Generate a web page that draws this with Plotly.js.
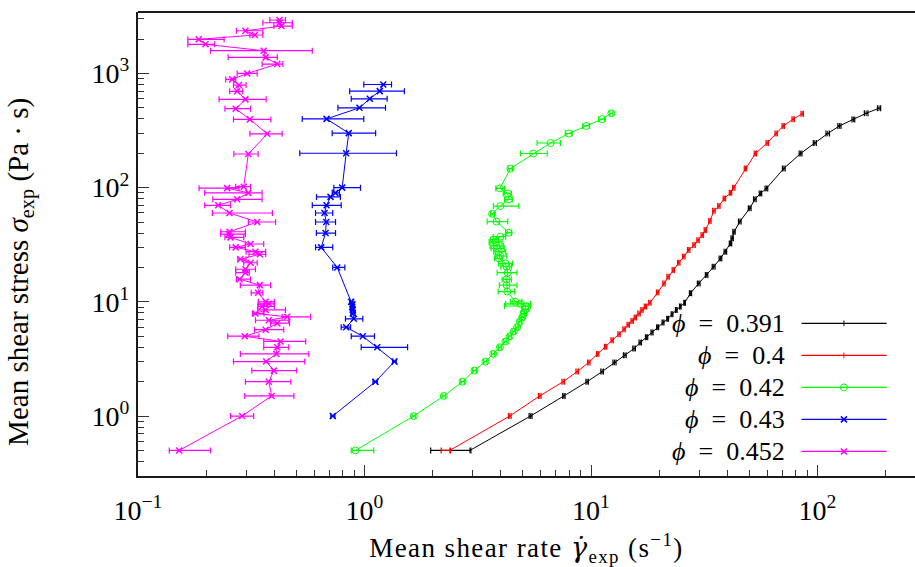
<!DOCTYPE html>
<html><head><meta charset="utf-8">
<script src="https://cdn.plot.ly/plotly-3.0.1.min.js"></script>
<style>
html,body{margin:0;padding:0;background:#fff}
#chart{width:915px;height:567px}
text.xtitle{letter-spacing:1.4px}
</style>
</head><body><div id="chart"></div>
<script>
// ---- data ----
const legendLabels = ['<i>ϕ</i>\u2002=\u20020.391', '<i>ϕ</i>\u2002=\u20020.4', '<i>ϕ</i>\u2002=\u20020.42', '<i>ϕ</i>\u2002=\u20020.43', '<i>ϕ</i>\u2002=\u20020.452'];
const seriesColors = ['#000000', '#ff0000', '#00ff00', '#0000ff', '#ff00ff'];

const xTickVals = [0.1, 1, 10, 100];
const xTickText = ['10<sup>−1</sup>', '10<sup>0</sup>', '10<sup>1</sup>', '10<sup>2</sup>'];
const yTickVals = [1, 10, 100, 1000];
const yTickText = ['10<sup>0</sup>', '10<sup>1</sup>', '10<sup>2</sup>', '10<sup>3</sup>'];
const xTitle = 'Mean shear rate <span style="font-family:\'DejaVu Serif\'"><i>γ̇</i></span><sub>exp</sub> (s<sup>−1</sup>)';
const yTitle = 'Mean shear stress <i>σ</i><sub>exp</sub> (Pa · s)';

// phi = 0.391 (black)
const phi391_stress = [0.5,1.0,1.5,2.0,2.45,2.95,3.4,3.9,4.4,4.9,5.4,6.0,6.6,7.1,7.8,8.5,9.1,9.8,11.9,14.5,17.2,20.3,24,27.5,32.5,36,41,50.4,65.9,79,89,98.5,147,199,246,298,347,396,448,496];
const phi391_rate   = [2.92,5.41,7.59,9.62,11.2,12.7,14.1,15.5,16.5,17.6,18.6,19.7,20.8,21.8,22.8,23.8,24.8,25.9,27.5,29.9,32.4,34.8,37.3,39.2,41.3,42.0,42.8,45.4,50.2,52.9,56.0,59.5,71.0,84.2,97.3,111,125,144,164,187];
const phi391_errLo  = [1.96,5.33,7.50,9.50,11.05,12.5,13.9,15.3,16.3,17.4,18.4,19.5,20.6,21.6,22.6,23.6,24.6,25.7,27.2,29.5,32.0,34.3,36.8,38.7,40.8,41.5,42.3,44.8,49.5,52.2,55.3,58.7,70.0,83.0,95.8,109,123,142,161,184];
const phi391_errHi  = [2.95,5.49,7.68,9.74,11.35,12.9,14.3,15.7,16.7,17.8,18.8,19.9,21.0,22.0,23.0,24.0,25.0,26.1,27.8,30.3,32.8,35.3,37.8,39.7,41.8,42.5,43.3,46.0,50.9,53.6,56.7,60.3,72.0,85.4,98.8,113,127,146,167,190];

// phi = 0.4 (red)
const phi400_stress = [0.5,1.0,1.5,2.0,2.45,2.95,3.5,4.05,4.6,5.2,5.75,6.3,6.8,7.3,7.9,8.5,9.1,9.8,12.1,14.5,16.6,19,22,24.9,28.5,31.4,34.7,38.4,42.5,51,62.8,69,80.4,90,100,147,199,246,298,347,398,443];
const phi400_rate   = [2.38,4.38,5.94,7.54,8.69,9.78,10.7,11.6,12.4,13.3,14.0,14.6,15.2,15.7,16.3,16.8,17.4,18.2,19.7,21.0,21.9,23.1,24.4,25.7,27.0,28.5,29.7,31.0,32.0,33.5,34.9,36.7,38.8,41.3,42.7,48.1,53.2,60.0,65.7,70.6,78.1,85.6];
const phi400_errLo  = [2.18,4.32,5.86,7.44,8.58,9.66,10.57,11.46,12.25,13.14,13.83,14.42,15.02,15.51,16.1,16.6,17.19,17.98,19.46,20.75,21.63,22.82,24.1,25.38,26.67,28.15,29.33,30.62,31.6,33.1,34.45,36.25,38.32,40.8,42.18,47.5,52.55,59.25,64.9,69.74,77.15,84.55];
const phi400_errHi  = [2.40,4.44,6.02,7.64,8.80,9.90,10.83,11.74,12.55,13.46,14.17,14.78,15.38,15.89,16.5,17.0,17.61,18.42,19.94,21.25,22.17,23.38,24.7,26.02,27.33,28.85,30.07,31.38,32.4,33.9,35.35,37.15,39.28,41.8,43.22,48.7,53.85,60.75,66.5,71.46,79.05,86.65];

// phi = 0.42 (green)
const phi420_stress = [0.5,1.0,1.5,2.0,2.5,3.0,3.5,4.0,4.5,5.0,5.5,6.0,6.7,7.3,7.9,8.6,9.2,9.6,10,12.3,14,15.7,18,20.3,21.7,24,25.2,27.5,29.4,30.9,33.5,35,37.2,40.3,50.4,59,69,79,89,98.5,147,199,246,298,347,398,448];
const phi420_rate   = [0.912,1.65,2.24,2.71,3.06,3.42,3.70,3.96,4.19,4.38,4.56,4.72,4.85,4.97,5.05,5.14,5.14,4.89,4.64,4.27,4.24,4.24,4.29,4.24,4.19,3.92,3.98,3.92,3.85,3.83,3.79,3.72,3.98,4.34,3.83,3.66,3.98,4.34,4.29,3.96,4.41,5.56,6.63,7.98,9.52,11.2,12.3];
const phi420_errLo  = [0.874,1.62,2.20,2.66,3.00,3.36,3.64,3.90,4.12,4.30,4.48,4.64,4.76,4.85,4.90,4.95,4.15,4.20,4.40,3.89,3.94,4.05,3.85,4.00,3.90,3.75,3.78,3.72,3.62,3.58,3.55,3.60,3.70,4.20,3.48,3.60,3.71,4.15,4.10,3.80,4.30,4.88,5.78,7.70,9.20,10.8,12.1];
const phi420_errHi  = [1.099,1.68,2.28,2.76,3.12,3.48,3.76,4.02,4.26,4.46,4.64,4.80,4.94,5.10,5.20,5.30,5.41,5.40,4.95,4.60,4.71,4.45,4.71,4.45,4.50,4.05,4.25,4.20,4.14,4.10,4.05,3.90,4.20,4.45,4.29,3.75,4.80,4.50,4.45,4.15,4.50,6.41,7.33,8.25,9.85,11.5,12.5];

// phi = 0.43 (blue)
const phi430_stress = [1,2,3,4,5,6,7.1,7.9,8.5,9,9.5,10,20,30,40,50,60,70,83,90,100,200,300,400,500,600,700,800];
const phi430_rate   = [0.724,1.118,1.357,1.138,0.983,0.830,0.897,0.888,0.888,0.882,0.885,0.873,0.758,0.644,0.673,0.678,0.666,0.680,0.708,0.744,0.797,0.830,0.852,0.680,0.950,1.055,1.168,1.210];
const phi430_errLo  = [0.71,1.09,1.33,0.967,0.874,0.789,0.824,0.87,0.87,0.87,0.87,0.86,0.724,0.608,0.613,0.608,0.608,0.588,0.614,0.72,0.732,0.518,0.72,0.531,0.763,0.874,0.86,0.993];
const phi430_errHi  = [0.74,1.14,1.38,1.55,1.107,0.868,0.983,0.91,0.90,0.895,0.90,0.89,0.819,0.724,0.745,0.745,0.724,0.789,0.783,0.775,0.96,1.384,1.12,0.993,1.238,1.259,1.50,1.316];

// phi = 0.452 (magenta)
const phi452_stress = [0.5,1.0,1.5,2.0,2.5,3.0,3.5,4.0,4.5,5.0,5.7,6.5,6.9,7.4,7.9,8.5,9.1,9.6,10,12,14,15.8,18,19.3,22,23.6,26.1,27.5,30,32.1,36.7,39.2,41.1,50,60,70,79,90,99,102,197,296,396,491,593,697,791,887,1000,1208,1383,1581,1799,1989,2170,2365,2600,2780,2936];
const phi452_rate   = [0.152,0.288,0.389,0.378,0.398,0.368,0.408,0.412,0.426,0.296,0.366,0.412,0.378,0.456,0.330,0.366,0.353,0.378,0.366,0.339,0.345,0.281,0.298,0.298,0.314,0.283,0.345,0.330,0.270,0.314,0.256,0.252,0.2535,0.336,0.2535,0.226,0.274,0.307,0.2475,0.293,0.307,0.372,0.312,0.270,0.298,0.274,0.279,0.2605,0.3035,0.412,0.366,0.359,0.1986,0.1855,0.328,0.298,0.430,0.4215,0.4215];
const phi452_errLo  = [0.1375,0.256,0.296,0.298,0.318,0.264,0.283,0.359,0.359,0.249,0.327,0.385,0.33,0.433,0.32,0.338,0.338,0.34,0.34,0.316,0.283,0.272,0.27,0.27,0.293,0.276,0.309,0.30,0.254,0.298,0.242,0.232,0.232,0.307,0.213,0.197,0.214,0.197,0.186,0.27,0.265,0.312,0.264,0.242,0.228,0.254,0.264,0.244,0.274,0.353,0.25,0.209,0.166,0.166,0.312,0.272,0.398,0.356,0.382];
const phi452_errHi  = [0.209,0.324,0.488,0.473,0.502,0.545,0.568,0.463,0.55,0.342,0.44,0.467,0.463,0.578,0.36,0.448,0.40,0.40,0.40,0.356,0.385,0.314,0.31,0.33,0.336,0.30,0.366,0.366,0.298,0.359,0.293,0.298,0.298,0.405,0.392,0.256,0.353,0.353,0.279,0.314,0.339,0.433,0.386,0.314,0.368,0.29,0.30,0.27,0.336,0.436,0.412,0.588,0.218,0.24,0.356,0.356,0.48,0.48,0.448];

const allSeries = [
  {x: phi391_rate, y: phi391_stress, lo: phi391_errLo, hi: phi391_errHi},
  {x: phi400_rate, y: phi400_stress, lo: phi400_errLo, hi: phi400_errHi},
  {x: phi420_rate, y: phi420_stress, lo: phi420_errLo, hi: phi420_errHi},
  {x: phi430_rate, y: phi430_stress, lo: phi430_errLo, hi: phi430_errHi},
  {x: phi452_rate, y: phi452_stress, lo: phi452_errLo, hi: phi452_errHi}
];

// ---- styles ----
const markerStyles = [
  {symbol: 'line-ns-open', size: 4, line: {width: 1, color: seriesColors[0]}},
  {symbol: 'line-ns-open', size: 4, line: {width: 1, color: seriesColors[1]}},
  {symbol: 'circle-open', size: 7, line: {width: 1, color: seriesColors[2]}},
  {symbol: 'x-thin-open', size: 6, line: {width: 1.5, color: seriesColors[3]}},
  {symbol: 'x-thin-open', size: 6, line: {width: 1.5, color: seriesColors[4]}}
];

const traces = allSeries.map((s, i) => ({
  type: 'scatter', mode: 'lines+markers',
  x: s.x, y: s.y,
  line: {color: seriesColors[i], width: 1},
  marker: Object.assign({color: seriesColors[i]}, markerStyles[i]),
  error_x: {
    type: 'data', symmetric: false,
    array: s.x.map((v, k) => Math.max(s.hi[k] - v, 0)),
    arrayminus: s.x.map((v, k) => Math.max(v - s.lo[k], 0)),
    color: seriesColors[i], thickness: 1.2, width: 3
  },
  showlegend: false, hoverinfo: 'x+y'
}));

// legend (text left, sample right), placed in paper coordinates
const legRowsY = [0.329, 0.260, 0.191, 0.122, 0.053];
const legLineX0 = 0.854, legLineX1 = 0.9635, legMarkX = 0.9085, legTextX = 0.835;
const shapes = legRowsY.map((yy, i) => ({
  type: 'line', xref: 'paper', yref: 'paper', x0: legLineX0, x1: legLineX1, y0: yy, y1: yy,
  line: {color: seriesColors[i], width: 1.2}
}));
// top frame line of the plot box
shapes.push({type: 'line', xref: 'paper', yref: 'paper', x0: 0, x1: 1, y0: 1, y1: 1, line: {color: '#1a1a1a', width: 2}});

legRowsY.forEach((yy, i) => {
  traces.push({
    type: 'scatter', mode: 'markers', xaxis: 'x2', yaxis: 'y2',
    x: [legMarkX], y: [yy],
    marker: Object.assign({color: seriesColors[i]}, markerStyles[i]),
    showlegend: false, hoverinfo: 'skip'
  });
});
const fontFam = 'Liberation Serif, serif';
const annotations = legRowsY.map((yy, i) => ({
  xref: 'paper', yref: 'paper', x: legTextX, y: yy, xanchor: 'right', yanchor: 'middle',
  text: legendLabels[i], showarrow: false,
  font: {family: fontFam, size: 26, color: '#000'}
}));
// y axis title, drawn as a rotated annotation centred on the plot height
annotations.push({
  xref: 'paper', yref: 'paper', x: -0.152, y: 0.5, xanchor: 'center', yanchor: 'middle',
  yshift: -28,
  textangle: -90, text: yTitle, showarrow: false,
  font: {family: fontFam, size: 29, color: '#000'}
});

function minorVals(lo, hi) {
  const v = [];
  for (let e = -2; e <= 4; e++) for (let d = 2; d <= 9; d++) {
    const t = d * Math.pow(10, e);
    if (t >= lo && t <= hi) v.push(t);
  }
  return v;
}

const layout = {
  width: 915, height: 567,
  margin: {l: 138, r: 0, t: 12, b: 91},
  paper_bgcolor: '#fff', plot_bgcolor: '#fff',
  font: {family: fontFam, size: 24, color: '#000'},
  xaxis: {
    type: 'log', range: [-1, 2.4305], showgrid: false, zeroline: false,
    showline: true, mirror: false, linecolor: '#1a1a1a', linewidth: 2,
    ticks: 'inside', ticklen: 11, tickwidth: 1, tickcolor: '#333',
    tickmode: 'array', tickvals: xTickVals, ticktext: xTickText,
    tickfont: {family: fontFam, size: 28},
    ticklabelstandoff: 8,
    minor: {tickmode: 'array', tickvals: minorVals(0.1, 270), ticks: 'inside', ticklen: 6, tickwidth: 1, tickcolor: '#333', showgrid: false},
    title: {text: xTitle, font: {family: fontFam, size: 27}, standoff: 25},
    automargin: false
  },
  yaxis: {
    type: 'log', range: [-0.525, 3.538], showgrid: false, zeroline: false,
    showline: true, mirror: false, linecolor: '#1a1a1a', linewidth: 2,
    ticks: 'inside', ticklen: 11, tickwidth: 1, tickcolor: '#333',
    tickmode: 'array', tickvals: yTickVals, ticktext: yTickText,
    tickfont: {family: fontFam, size: 28},
    ticklabelstandoff: 1,
    minor: {tickmode: 'array', tickvals: minorVals(0.3, 3450), ticks: 'inside', ticklen: 6, tickwidth: 1, tickcolor: '#333', showgrid: false},
    automargin: false
  },
  xaxis2: {overlaying: 'x', range: [0, 1], visible: false, anchor: 'y2'},
  yaxis2: {overlaying: 'y', range: [0, 1], visible: false, anchor: 'x2'},
  shapes: shapes,
  annotations: annotations,
  showlegend: false
};

Plotly.newPlot('chart', traces, layout, {displayModeBar: false, staticPlot: true});
</script>
</body></html>
